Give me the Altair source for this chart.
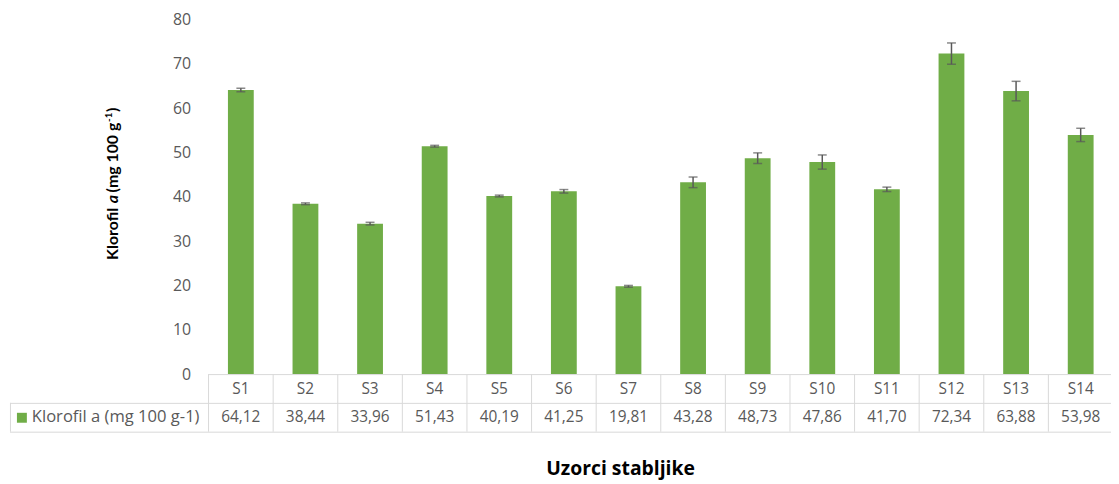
import altair as alt
import pandas as pd

categories = ["S1", "S2", "S3", "S4", "S5", "S6", "S7", "S8", "S9", "S10", "S11", "S12", "S13", "S14"]
values = [64.12, 38.44, 33.96, 51.43, 40.19, 41.25, 19.81, 43.28, 48.73, 47.86, 41.70, 72.34, 63.88, 53.98]
errors = [0.4, 0.2, 0.3, 0.2, 0.2, 0.4, 0.2, 1.2, 1.2, 1.6, 0.5, 2.4, 2.2, 1.5]
series_label = "Klorofil a (mg 100 g-1)"
y_ticks = [0, 10, 20, 30, 40, 50, 60, 70, 80]
x_title = "Uzorci stabljike"

df = pd.DataFrame({"cat": categories, "val": values, "err": errors})
df["lo"] = df["val"] - df["err"]
df["hi"] = df["val"] + df["err"]
df["lab"] = [f"{v:.2f}".replace(".", ",") for v in values]

GREEN = "#70AD47"
GRID = "#d9d9d9"
TXT = "#595959"
FONT = "Open Sans"
TFONT = "Lato"

xscale = alt.Scale(range=[0, 911], paddingInner=0, paddingOuter=0)
xenc = alt.X("cat:N", sort=categories, scale=xscale, axis=None)
yscale = alt.Scale(domain=[0, 80], nice=False)
yaxis = alt.Axis(values=y_ticks, title=None, domain=False, ticks=False, tickSize=0, grid=False,
                 labelPadding=18, labelFontSize=16, labelColor=TXT, labelFont=FONT)

base = alt.Chart(df)
one = alt.Chart(pd.DataFrame({"k": [0]}))

bars = base.mark_bar(size=26, color=GREEN).encode(
    x=xenc, y=alt.Y("val:Q", scale=yscale, axis=yaxis))
err_rule = base.mark_rule(color=TXT, strokeWidth=1.5).encode(
    x=xenc, y=alt.Y("lo:Q", scale=yscale, axis=yaxis), y2="hi:Q")
cap_lo = base.mark_tick(color=TXT, thickness=1.5, size=9).encode(
    x=xenc, y=alt.Y("lo:Q", scale=yscale, axis=yaxis))
cap_hi = base.mark_tick(color=TXT, thickness=1.5, size=9).encode(
    x=xenc, y=alt.Y("hi:Q", scale=yscale, axis=yaxis))

cat_text = base.mark_text(fontSize=15.5, color=TXT, font=FONT, baseline="middle").encode(
    x=xenc, y=alt.value(372), text="cat:N")
val_text = base.mark_text(fontSize=15.5, color=TXT, font=FONT, baseline="middle").encode(
    x=xenc, y=alt.value(400.5), text="lab:N")

vlines = base.mark_rule(color=GRID, strokeWidth=1).encode(
    x=alt.X("cat:N", sort=categories, scale=xscale, axis=None, bandPosition=0),
    y=alt.value(357), y2=alt.value(415))

h1 = one.mark_rule(color=GRID, strokeWidth=1).encode(x=alt.value(0), x2=alt.value(911), y=alt.value(357.5))
h2 = one.mark_rule(color=GRID, strokeWidth=1).encode(x=alt.value(-200), x2=alt.value(911), y=alt.value(386.5))
h3 = one.mark_rule(color=GRID, strokeWidth=1).encode(x=alt.value(-200), x2=alt.value(911), y=alt.value(415.5))
vleft = one.mark_rule(color=GRID, strokeWidth=1).encode(x=alt.value(-199.5), y=alt.value(386), y2=alt.value(415))

leg_sq = one.mark_rect(color=GREEN).encode(
    x=alt.value(-193), x2=alt.value(-183), y=alt.value(396), y2=alt.value(406))
leg_txt = one.mark_text(align="left", baseline="middle", fontSize=16.7, color=TXT, font=FONT).encode(
    x=alt.value(-178), y=alt.value(400.5), text=alt.value(series_label))

xt = one.mark_text(fontSize=19.5, fontWeight="bold", color="black", font=FONT, baseline="middle").encode(
    x=alt.value(415), y=alt.value(453), text=alt.value(x_title))

def seg(txt, ypos, xpos=-91, size=16, italic=False):
    return one.mark_text(angle=270, align="left", baseline="alphabetic", fontSize=size,
                         fontWeight="bold", fontStyle="italic" if italic else "normal",
                         color="black", font=TFONT).encode(
        x=alt.value(xpos), y=alt.value(ypos), text=alt.value(txt))

yt = [
    seg("Klorofil", 242),
    seg("a", 185, italic=True),
    seg("(mg 100 g", 174),
    seg("-1", 103, xpos=-97, size=10),
    seg(")", 93),
]

chart = alt.layer(
    vlines, h1, h2, h3, vleft, bars, err_rule, cap_lo, cap_hi,
    cat_text, val_text, leg_sq, leg_txt, xt, *yt
).properties(
    width=909, height=357,
    padding={"left": 202, "top": 10, "right": 0, "bottom": 112},
    autosize=alt.AutoSizeParams(type="none"),
    background="white",
).configure_view(stroke=None)

chart.save("out.html", embed_options={"renderer": "svg", "actions": False})
